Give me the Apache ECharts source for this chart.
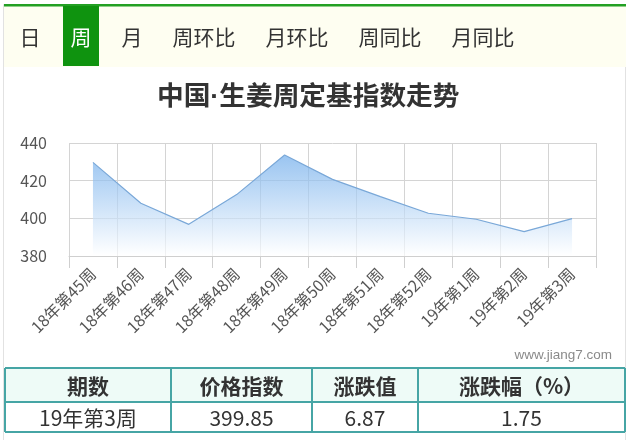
<!DOCTYPE html>
<html><head><meta charset="utf-8">
<script src="https://cdn.jsdelivr.net/npm/echarts@6/dist/echarts.min.js"></script>
<style>html,body{margin:0;padding:0;background:#fff}#c{width:630px;height:440px}</style>
</head><body><div id="c"></div>
<script>
const tabLabels = ['日', '周', '月', '周环比', '月环比', '周同比', '月同比'];
const activeTab = 1;
const titleText = '中国·生姜周定基指数走势';
const categories = ['18年第45周', '18年第46周', '18年第47周', '18年第48周', '18年第49周', '18年第50周', '18年第51周', '18年第52周', '19年第1周', '19年第2周', '19年第3周'];
const indexValues = [429.7, 408.0, 396.8, 412.6, 433.6, 420.7, 411.5, 402.7, 399.5, 392.98, 399.85];
const yMin = 380, yMax = 440, yStep = 20;
const watermarkText = 'www.jiang7.com';
const tableHeaders = ['期数', '价格指数', '涨跌值', '涨跌幅（%）'];
const tableRow = ['19年第3周', '399.85', '6.87', '1.75'];

const FONT = '"Noto Sans CJK SC", "Noto Sans", sans-serif';
const TITLE_FONT = '"Liberation Sans", "Noto Sans CJK SC", sans-serif';
const chart = echarts.init(document.getElementById('c'), null, {renderer: 'canvas'});

const g = [];
// outer frame
g.push({type: 'rect', shape: {x: 3.5, y: 4.5, width: 622, height: 440}, style: {fill: 'none', stroke: '#e2e2e2', lineWidth: 1}, silent: true});
// tab bar background
g.push({type: 'rect', shape: {x: 4, y: 6, width: 622, height: 61}, style: {fill: '#fefef1'}, silent: true});
g.push({type: 'rect', shape: {x: 4, y: 4, width: 622, height: 2.5}, style: {fill: '#23a023'}, silent: true});
// tabs layout
const tabFs = 21, tabGap = 30;
let tx = 19.5;
tabLabels.forEach((t, i) => {
  const w = t.length * tabFs;
  if (i === activeTab) {
    g.push({type: 'rect', shape: {x: tx - 7.5, y: 6, width: w + 15, height: 60}, style: {fill: '#0f930f'}, silent: true});
  }
  g.push({type: 'text', x: tx + w / 2, y: 37, style: {text: t, font: '21px ' + FONT, fill: i === activeTab ? '#ffffff' : '#333333', align: 'center', verticalAlign: 'middle'}, silent: true});
  tx += w + tabGap;
});
// watermark
g.push({type: 'text', x: 612, y: 355, style: {text: watermarkText, font: '13.5px "Liberation Sans", Arial, sans-serif', fill: '#8a8a8a', align: 'right', verticalAlign: 'middle'}, silent: true});
// table
const colX = [5, 171, 312, 418, 625];
const rowY = [368, 402, 432];
g.push({type: 'rect', shape: {x: colX[0], y: rowY[0], width: colX[4] - colX[0], height: rowY[1] - rowY[0]}, style: {fill: '#eefbf7'}, silent: true});
const bc = '#46a5a5';
for (const y of rowY) g.push({type: 'line', shape: {x1: colX[0], y1: y, x2: colX[4], y2: y}, style: {stroke: bc, lineWidth: 2}, silent: true});
for (const x of colX) g.push({type: 'line', shape: {x1: x, y1: rowY[0], x2: x, y2: rowY[2]}, style: {stroke: bc, lineWidth: 2}, silent: true});
tableHeaders.forEach((h, i) => {
  g.push({type: 'text', x: (colX[i] + colX[i + 1]) / 2, y: (rowY[0] + rowY[1]) / 2 + 1, style: {text: h, font: 'bold 21px ' + FONT, fill: '#333', align: 'center', verticalAlign: 'middle'}, silent: true});
});
tableRow.forEach((h, i) => {
  g.push({type: 'text', x: (colX[i] + colX[i + 1]) / 2, y: (rowY[1] + rowY[2]) / 2 + 1, style: {text: h, font: '21px ' + FONT, fill: '#333', align: 'center', verticalAlign: 'middle'}, silent: true});
});

chart.setOption({
  animation: false,
  backgroundColor: 'transparent',
  title: {text: titleText, left: 157, top: 84, padding: 0, textStyle: {fontFamily: TITLE_FONT, fontSize: 26.7, fontWeight: 'bold', color: '#333'}},
  grid: {left: 69, right: 34, top: 143, bottom: 184, containLabel: false},
  xAxis: {
    type: 'category', data: categories, boundaryGap: true,
    axisLine: {show: true, lineStyle: {color: '#cfcfcf'}},
    axisTick: {show: true, length: 12, interval: 0, lineStyle: {color: '#cfcfcf'}},
    splitLine: {show: true, interval: 0, lineStyle: {color: '#d4d4d4'}},
    axisLabel: {interval: 0, rotate: 45, margin: 15, fontFamily: FONT, fontSize: 16, color: '#555'}
  },
  yAxis: {
    type: 'value', min: yMin, max: yMax, interval: yStep,
    axisLine: {show: false}, axisTick: {show: false},
    splitLine: {lineStyle: {color: '#d4d4d4'}},
    axisLabel: {margin: 22, fontFamily: FONT, fontSize: 16, color: '#555'}
  },
  series: [{
    type: 'line', data: indexValues, showSymbol: false, symbol: 'none',
    lineStyle: {color: '#7aa8d8', width: 1.2},
    areaStyle: {color: new echarts.graphic.LinearGradient(0, 0, 0, 1, [
      {offset: 0, color: '#6eabea'}, {offset: 1, color: '#ffffff'}
    ])}
  }],
  graphic: g
});
</script></body></html>
